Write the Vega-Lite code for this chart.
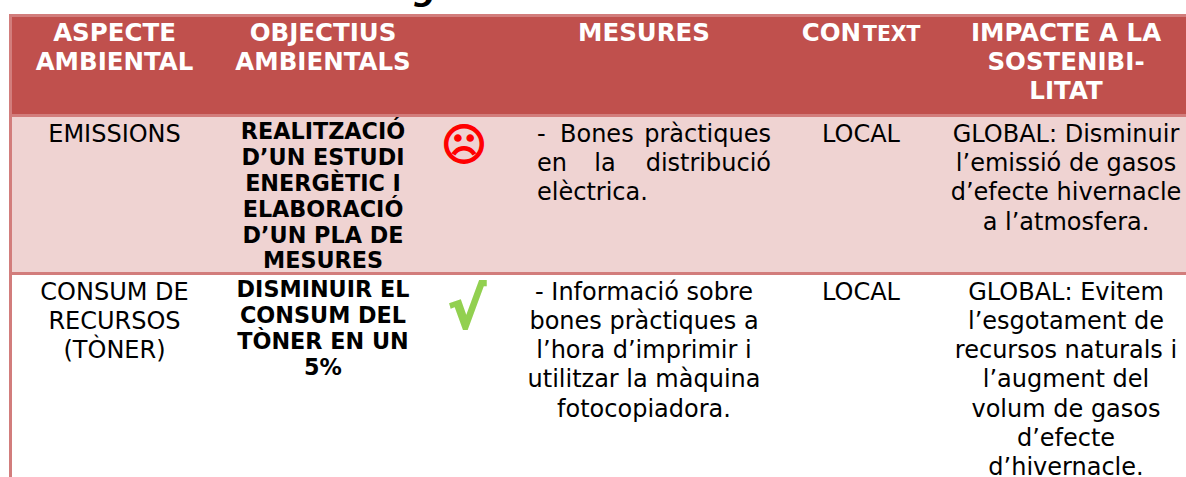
{"$schema":"https://vega.github.io/schema/vega-lite/v6.json","width":1186,"height":477,"padding":0,"autosize":{"type":"none"},"background":"white","view":{"stroke":null},
"datasets":{"bands":[
{"band":"body1","col":1,"col2":13,"line":7,"line2":19},
{"band":"head","col":1,"col2":13,"line":2,"line2":6},
{"band":"rule","col":0,"col2":13,"line":1,"line2":2},
{"band":"rule","col":0,"col2":13,"line":6,"line2":7},
{"band":"rule","col":0,"col2":13,"line":19,"line2":20},
{"band":"rule","col":0,"col2":1,"line":1,"line2":33}],
"cells":[
{"kind":"title","text":"g","col":4,"line":0},
{"kind":"head","text":"ASPECTE","col":2,"line":3},{"kind":"head","text":"AMBIENTAL","col":2,"line":4},
{"kind":"head","text":"OBJECTIUS","col":3,"line":3},{"kind":"head","text":"AMBIENTALS","col":3,"line":4},
{"kind":"head","text":"MESURES","col":9,"line":3},
{"kind":"headR","text":"CON","col":11,"line":3},{"kind":"headL","text":"TEXT","col":11,"line":3},
{"kind":"head","text":"IMPACTE A LA","col":12,"line":3},{"kind":"head","text":"SOSTENIBI-","col":12,"line":4},{"kind":"head","text":"LITAT","col":12,"line":5},
{"kind":"normal","text":"EMISSIONS","col":2,"line":9},
{"kind":"bold","text":"REALITZACIÓ","col":3,"line":8},{"kind":"bold","text":"D’UN ESTUDI","col":3,"line":11},{"kind":"bold","text":"ENERGÈTIC I","col":3,"line":13},{"kind":"bold","text":"ELABORACIÓ","col":3,"line":15},{"kind":"bold","text":"D’UN PLA DE","col":3,"line":17},{"kind":"bold","text":"MESURES","col":3,"line":18},
{"kind":"sad","text":"☹","col":5,"line":10},
{"kind":"left","text":"-","col":6,"line":9},{"kind":"left","text":"Bones","col":7,"line":9},{"kind":"right","text":"pràctiques","col":10,"line":9},
{"kind":"left","text":"en","col":6,"line":12},{"kind":"normal","text":"la","col":8,"line":12},{"kind":"right","text":"distribució","col":10,"line":12},
{"kind":"left","text":"elèctrica.","col":6,"line":14},
{"kind":"normal","text":"LOCAL","col":11,"line":9},
{"kind":"normal","text":"GLOBAL: Disminuir","col":12,"line":9},{"kind":"normal","text":"l’emissió de gasos","col":12,"line":12},{"kind":"normal","text":"d’efecte hivernacle","col":12,"line":14},{"kind":"normal","text":"a l’atmosfera.","col":12,"line":16},
{"kind":"normal","text":"CONSUM DE","col":2,"line":22},{"kind":"normal","text":"RECURSOS","col":2,"line":25},{"kind":"normal","text":"(TÒNER)","col":2,"line":27},
{"kind":"bold","text":"DISMINUIR EL","col":3,"line":21},{"kind":"bold","text":"CONSUM DEL","col":3,"line":24},{"kind":"bold","text":"TÒNER EN UN","col":3,"line":26},{"kind":"bold","text":"5%","col":3,"line":28},
{"kind":"check","text":"√","col":5,"line":23},
{"kind":"normal","text":"- Informació sobre","col":9,"line":22},{"kind":"normal","text":"bones pràctiques a","col":9,"line":25},{"kind":"normal","text":"l’hora d’imprimir i","col":9,"line":27},{"kind":"normal","text":"utilitzar la màquina","col":9,"line":29},{"kind":"normal","text":"fotocopiadora.","col":9,"line":30},
{"kind":"normal","text":"LOCAL","col":11,"line":22},
{"kind":"normal","text":"GLOBAL: Evitem","col":12,"line":22},{"kind":"normal","text":"l’esgotament de","col":12,"line":25},{"kind":"normal","text":"recursos naturals i","col":12,"line":27},{"kind":"normal","text":"l’augment del","col":12,"line":29},{"kind":"normal","text":"volum de gasos","col":12,"line":30},{"kind":"normal","text":"d’efecte","col":12,"line":31},{"kind":"normal","text":"d’hivernacle.","col":12,"line":32}
]},
"encoding":{
"x":{"field":"col","type":"quantitative","axis":null,"scale":{"domain":[0,1,2,3,4,5,6,7,8,9,10,11,12,13],"range":[9,12,114.5,323,425,464,537,560,605,644,771,861,1066,1186],"nice":false,"zero":false}},
"y":{"field":"line","type":"quantitative","axis":null,"scale":{"domain":[0,1,2,3,4,5,6,7,8,9,10,11,12,13,14,15,16,17,18,19,20,21,22,23,24,25,26,27,28,29,30,31,32,33],"range":[-10,14,17,33.5,62.5,91.5,114,117,132,134.5,147,158,164,184,193,210,222.5,236,261,272,275,290,293,311,316,321.5,342,350.5,368,380,409.5,439,468,477],"nice":false,"zero":false}}
},
"layer":[
{"data":{"name":"bands"},"mark":{"type":"rect"},"encoding":{"x2":{"field":"col2"},"y2":{"field":"line2"},"color":{"field":"band","type":"nominal","legend":null,"scale":{"domain":["body1","head","rule"],"range":["#EFD3D2","#C0504D","#D27D7C"]}}}},
{"data":{"name":"cells"},"transform":[{"filter":"datum.kind==='title'"}],"mark":{"type":"text","font":"DejaVu Sans","fontWeight":"bold","fontStyle":"italic","fontSize":32,"baseline":"middle","align":"center","fill":"#000"},"encoding":{"text":{"field":"text"}}},
{"data":{"name":"cells"},"transform":[{"filter":"datum.kind==='head'"}],"mark":{"type":"text","font":"DejaVu Sans","fontWeight":"bold","fontSize":24.5,"baseline":"middle","align":"center","fill":"#fff"},"encoding":{"text":{"field":"text"}}},
{"data":{"name":"cells"},"transform":[{"filter":"datum.kind==='headR'"}],"mark":{"type":"text","font":"DejaVu Sans","fontWeight":"bold","fontSize":24.5,"baseline":"middle","align":"right","fill":"#fff"},"encoding":{"text":{"field":"text"}}},
{"data":{"name":"cells"},"transform":[{"filter":"datum.kind==='headL'"}],"mark":{"type":"text","font":"DejaVu Sans","fontWeight":"bold","fontSize":20.4,"baseline":"middle","align":"left","dx":2,"dy":1,"fill":"#fff"},"encoding":{"text":{"field":"text"}}},
{"data":{"name":"cells"},"transform":[{"filter":"datum.kind==='normal'"}],"mark":{"type":"text","font":"DejaVu Sans","fontSize":24,"baseline":"middle","align":"center","fill":"#000"},"encoding":{"text":{"field":"text"}}},
{"data":{"name":"cells"},"transform":[{"filter":"datum.kind==='left'"}],"mark":{"type":"text","font":"DejaVu Sans","fontSize":24,"baseline":"middle","align":"left","fill":"#000"},"encoding":{"text":{"field":"text"}}},
{"data":{"name":"cells"},"transform":[{"filter":"datum.kind==='right'"}],"mark":{"type":"text","font":"DejaVu Sans","fontSize":24,"baseline":"middle","align":"right","fill":"#000"},"encoding":{"text":{"field":"text"}}},
{"data":{"name":"cells"},"transform":[{"filter":"datum.kind==='bold'"}],"mark":{"type":"text","font":"DejaVu Sans","fontWeight":"bold","fontSize":22.3,"baseline":"middle","align":"center","fill":"#000"},"encoding":{"text":{"field":"text"}}},
{"data":{"name":"cells"},"transform":[{"filter":"datum.kind==='sad'"}],"mark":{"type":"text","font":"DejaVu Sans","fontWeight":"bold","fontSize":44,"baseline":"middle","align":"center","fill":"#FF0000","stroke":"#FF0000","strokeWidth":1.5},"encoding":{"text":{"field":"text"}}},
{"data":{"name":"cells"},"transform":[{"filter":"datum.kind==='check'"}],"mark":{"type":"text","font":"DejaVu Sans","fontWeight":"bold","fontSize":56,"baseline":"middle","align":"center","dx":3,"fill":"#92D050","stroke":"#92D050","strokeWidth":2},"encoding":{"text":{"field":"text"}}}
]}
